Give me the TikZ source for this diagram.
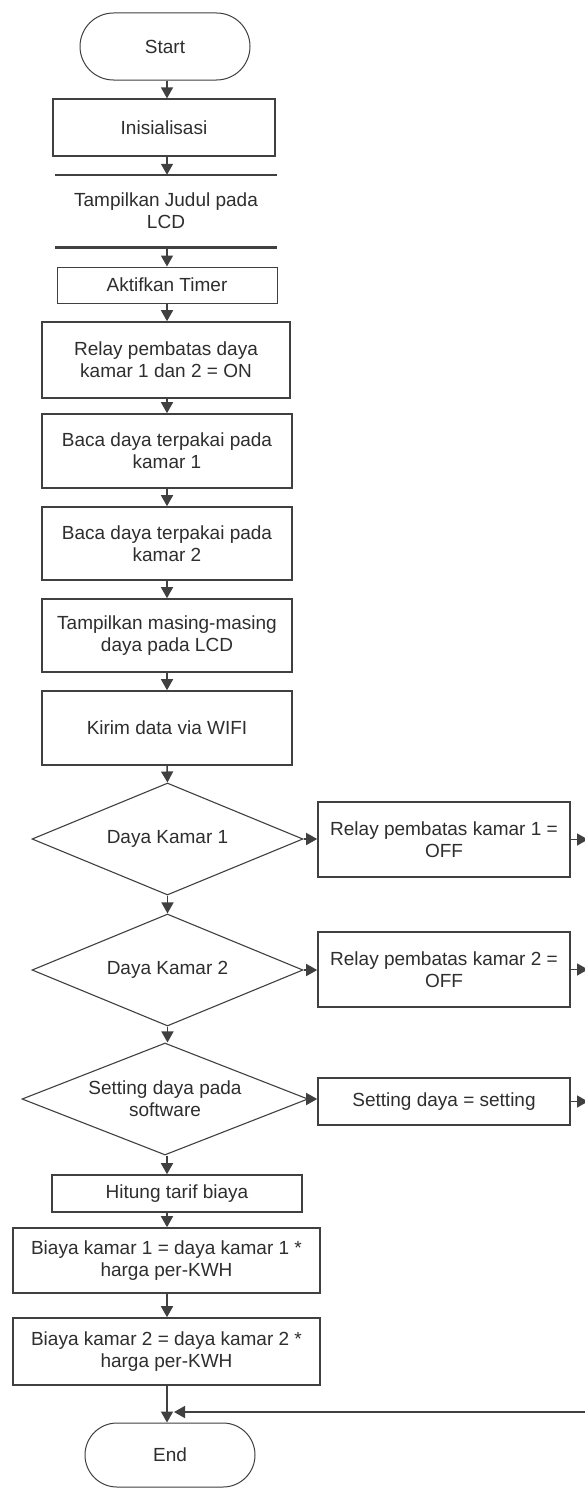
\documentclass[tikz,border=0pt]{standalone}
\usepackage{fontspec}
\setmainfont{Liberation Sans}
\usetikzlibrary{shapes.geometric,shapes.misc,arrows.meta}

\definecolor{ink}{HTML}{2E2E2E}
\definecolor{edge}{HTML}{404040}

\begin{document}
\begin{tikzpicture}[x=1pt,y=-1pt,
  every node/.style={font=\fontsize{19}{22}\selectfont, text=ink, align=center},
  proc/.style={draw=edge, line width=1.6pt, rectangle, inner sep=0pt},
  term/.style={draw=edge, line width=1pt, rounded rectangle, inner sep=0pt,
               minimum width=170pt},
  decide/.style={draw=edge, line width=1.1pt, diamond, inner sep=0pt,
                 minimum height=112pt},
  flow/.style={draw=edge, line width=1.5pt, -{Triangle[length=11pt,width=12pt]}}
]
\useasboundingbox (0,0) rectangle (584,1488);
\fill[white] (0,0) rectangle (584,1488);

% main column axis
\coordinate (spine) at (167,0);

% main column
\node[term, minimum height=67pt] (start) at (165,46.5) {Start};
\node[proc, line width=1.2pt, minimum width=222pt, minimum height=57pt] (init) at (164,127.5) {Inisialisasi};
\node[inner sep=0pt, minimum width=222pt, minimum height=72pt] (judul) at (166,211)
  {Tampilkan Judul pada\\LCD};
\draw[edge, line width=2.6pt] (judul.north west) -- (judul.north east);
\draw[edge, line width=2.6pt] (judul.south west) -- (judul.south east);
\node[proc, line width=1pt, minimum width=220pt, minimum height=36pt] (timer) at (167,285) {Aktifkan Timer};
\node[proc, minimum width=248pt, minimum height=76pt] (relayon) at (166,360)
  {Relay pembatas daya\\kamar 1 dan 2 = ON};
\node[proc, minimum width=250pt, minimum height=74pt] (baca1) at (167,451)
  {Baca daya terpakai pada\\kamar 1};
\node[proc, minimum width=250pt, minimum height=73pt] (baca2) at (167,543.5)
  {Baca daya terpakai pada\\kamar 2};
\node[proc, minimum width=250pt, minimum height=73pt] (tampil) at (167,635.5)
  {Tampilkan masing-masing\\daya pada LCD};
\node[proc, minimum width=250pt, minimum height=74pt] (kirim) at (167,728)
  {Kirim data via WIFI};

% decisions
\node[decide, shape aspect=2.42, minimum width=271pt] (d1) at (167.5,839) {Daya Kamar 1};
\node[decide, shape aspect=2.42, minimum width=271pt] (d2) at (167.5,970) {Daya Kamar 2};
\node[decide, shape aspect=2.55, minimum width=286pt] (d3) at (165,1099) {Setting daya pada\\software};

% actions on the right
\node[proc, minimum width=252pt, minimum height=75pt] (r1) at (444,839.5)
  {Relay pembatas kamar 1 =\\OFF};
\node[proc, minimum width=252pt, minimum height=75pt] (r2) at (444,969.5)
  {Relay pembatas kamar 2 =\\OFF};
\node[proc, minimum width=252pt, minimum height=47pt] (r3) at (444,1101.5)
  {Setting daya = setting};

% billing
\node[proc, minimum width=250pt, minimum height=37pt] (hitung) at (177,1193.5) {Hitung tarif biaya};
\node[proc, minimum width=307pt, minimum height=65pt] (biaya1) at (166.5,1260.5)
  {Biaya kamar 1 = daya kamar 1 *\\harga per-KWH};
\node[proc, minimum width=307pt, minimum height=67pt] (biaya2) at (166.5,1351.5)
  {Biaya kamar 2 = daya kamar 2 *\\harga per-KWH};
\node[term, minimum height=64pt] (end) at (170,1455) {End};

% loose ends at the right border
\coordinate (o1) at (588,839.5);
\coordinate (o2) at (588,969.5);
\coordinate (o3) at (588,1101.5);
\coordinate (ret) at (590,1412);
\coordinate (join) at (167,1412);

% vertical flow
\draw[flow] (start.south -| spine) -- (init.north -| spine);
\draw[flow] (init.south -| spine) -- (judul.north -| spine);
\draw[flow] (judul.south -| spine) -- (timer.north -| spine);
\draw[flow] (timer.south -| spine) -- (relayon.north -| spine);
\draw[flow] (relayon.south -| spine) -- (baca1.north -| spine);
\draw[flow] (baca1.south -| spine) -- (baca2.north -| spine);
\draw[flow] (baca2.south -| spine) -- (tampil.north -| spine);
\draw[flow] (tampil.south -| spine) -- (kirim.north -| spine);
\draw[flow] (kirim.south -| spine) -- (d1.north);
\draw[flow] (d1.south) -- (d2.north);
\draw[flow] (d2.south) -- (d3.north -| d2.south);
\draw[flow] (d3.south -| spine) -- (hitung.north -| spine);
\draw[flow] (hitung.south -| spine) -- (biaya1.north -| spine);
\draw[flow] (biaya1.south -| spine) -- (biaya2.north -| spine);
\draw[flow] (biaya2.south -| spine) -- (end.north -| spine);

% branches to the right
\draw[flow] (d1.east) -- (d1.east -| r1.west);
\draw[flow] (d2.east) -- (d2.east -| r2.west);
\draw[flow] (d3.east) -- (d3.east -| r3.west);
\draw[flow] (r1.east) -- (o1);
\draw[flow] (r2.east) -- (o2);
\draw[flow] (r3.east) -- (o3);

% return line into the end terminator
\draw[flow, shorten >=7pt] (ret) -- (join);
\end{tikzpicture}
\end{document}
